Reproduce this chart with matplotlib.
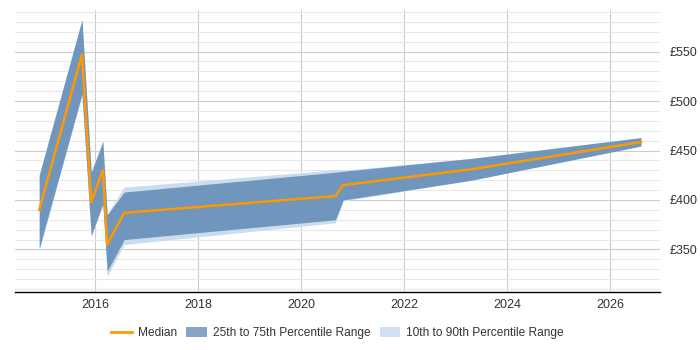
import matplotlib
matplotlib.use("Agg")
import matplotlib.pyplot as plt
from matplotlib.patches import Patch
from matplotlib.lines import Line2D
from matplotlib.ticker import MultipleLocator, FuncFormatter

plt.rcParams['font.family'] = ['Liberation Sans', 'DejaVu Sans']

# decimal years
years = [2014.92, 2015.75, 2015.93, 2016.155, 2016.24, 2016.57,
         2020.67, 2020.82, 2023.31, 2026.6]
median = [390, 547, 398, 430, 355, 387, 404, 415, 431, 458.5]
p25 = [351, 507, 364, 396, 328, 360, 380, 400, 420, 454.5]
p75 = [425, 582, 428, 459, 385, 408, 428, 429, 442, 463]
p10 = [349, 506, 363, 395, 323, 355, 377, 399, 420, 454.5]
p90 = [426, 583, 429, 460, 386, 413, 430.5, 430, 442, 463]

dark = '#7096be'
light = '#cadcee'
orange = '#ff9900'

fig = plt.figure(figsize=(7, 3.5), dpi=100)
ax = fig.add_axes([15/700, 58/350, 645/700, 282/350])

ax.fill_between(years, p10, p90, color=light, lw=0, zorder=2)
ax.fill_between(years, p25, p75, color=dark, lw=0, zorder=3)
ax.plot(years, median, color=orange, lw=1.8, zorder=4)

ax.set_xlim(2014.45, 2026.97)
ax.set_ylim(307, 592)

ax.xaxis.set_major_locator(MultipleLocator(2))
ax.xaxis.set_major_formatter(FuncFormatter(lambda v, p: '%d' % v))
ax.yaxis.set_major_locator(MultipleLocator(50))
ax.yaxis.set_minor_locator(MultipleLocator(10))
ax.yaxis.set_major_formatter(FuncFormatter(lambda v, p: '£%d' % v))
ax.yaxis.tick_right()

ax.grid(which='major', axis='both', color='#cccccc', lw=0.8, zorder=0)
ax.grid(which='minor', axis='y', color='#e8e8e8', lw=0.8, zorder=0)
ax.set_axisbelow(True)

for s in ['top', 'left', 'right']:
    ax.spines[s].set_visible(False)
ax.spines['bottom'].set_color('black')
ax.spines['bottom'].set_linewidth(1)

ax.tick_params(axis='y', which='both', length=0, pad=7, labelsize=9, labelcolor='#333333')
ax.tick_params(axis='x', length=0, pad=5, labelsize=9, labelcolor='#333333')

handles = [Line2D([0], [0], color=orange, lw=2),
           Patch(facecolor='#86a4c8', edgecolor='none'),
           Patch(facecolor='#d0e0f0', edgecolor='none')]
labels = ['Median', '25th to 75th Percentile Range', '10th to 90th Percentile Range']
fig.legend(handles, labels, loc='center', bbox_to_anchor=(337.5/700, 17/350), ncol=3,
           frameon=False, fontsize=8.6, handlelength=1.7, handleheight=1.0,
           columnspacing=0.8, handletextpad=0.5, labelcolor='#333333')

fig.savefig('out.png', dpi=100)
